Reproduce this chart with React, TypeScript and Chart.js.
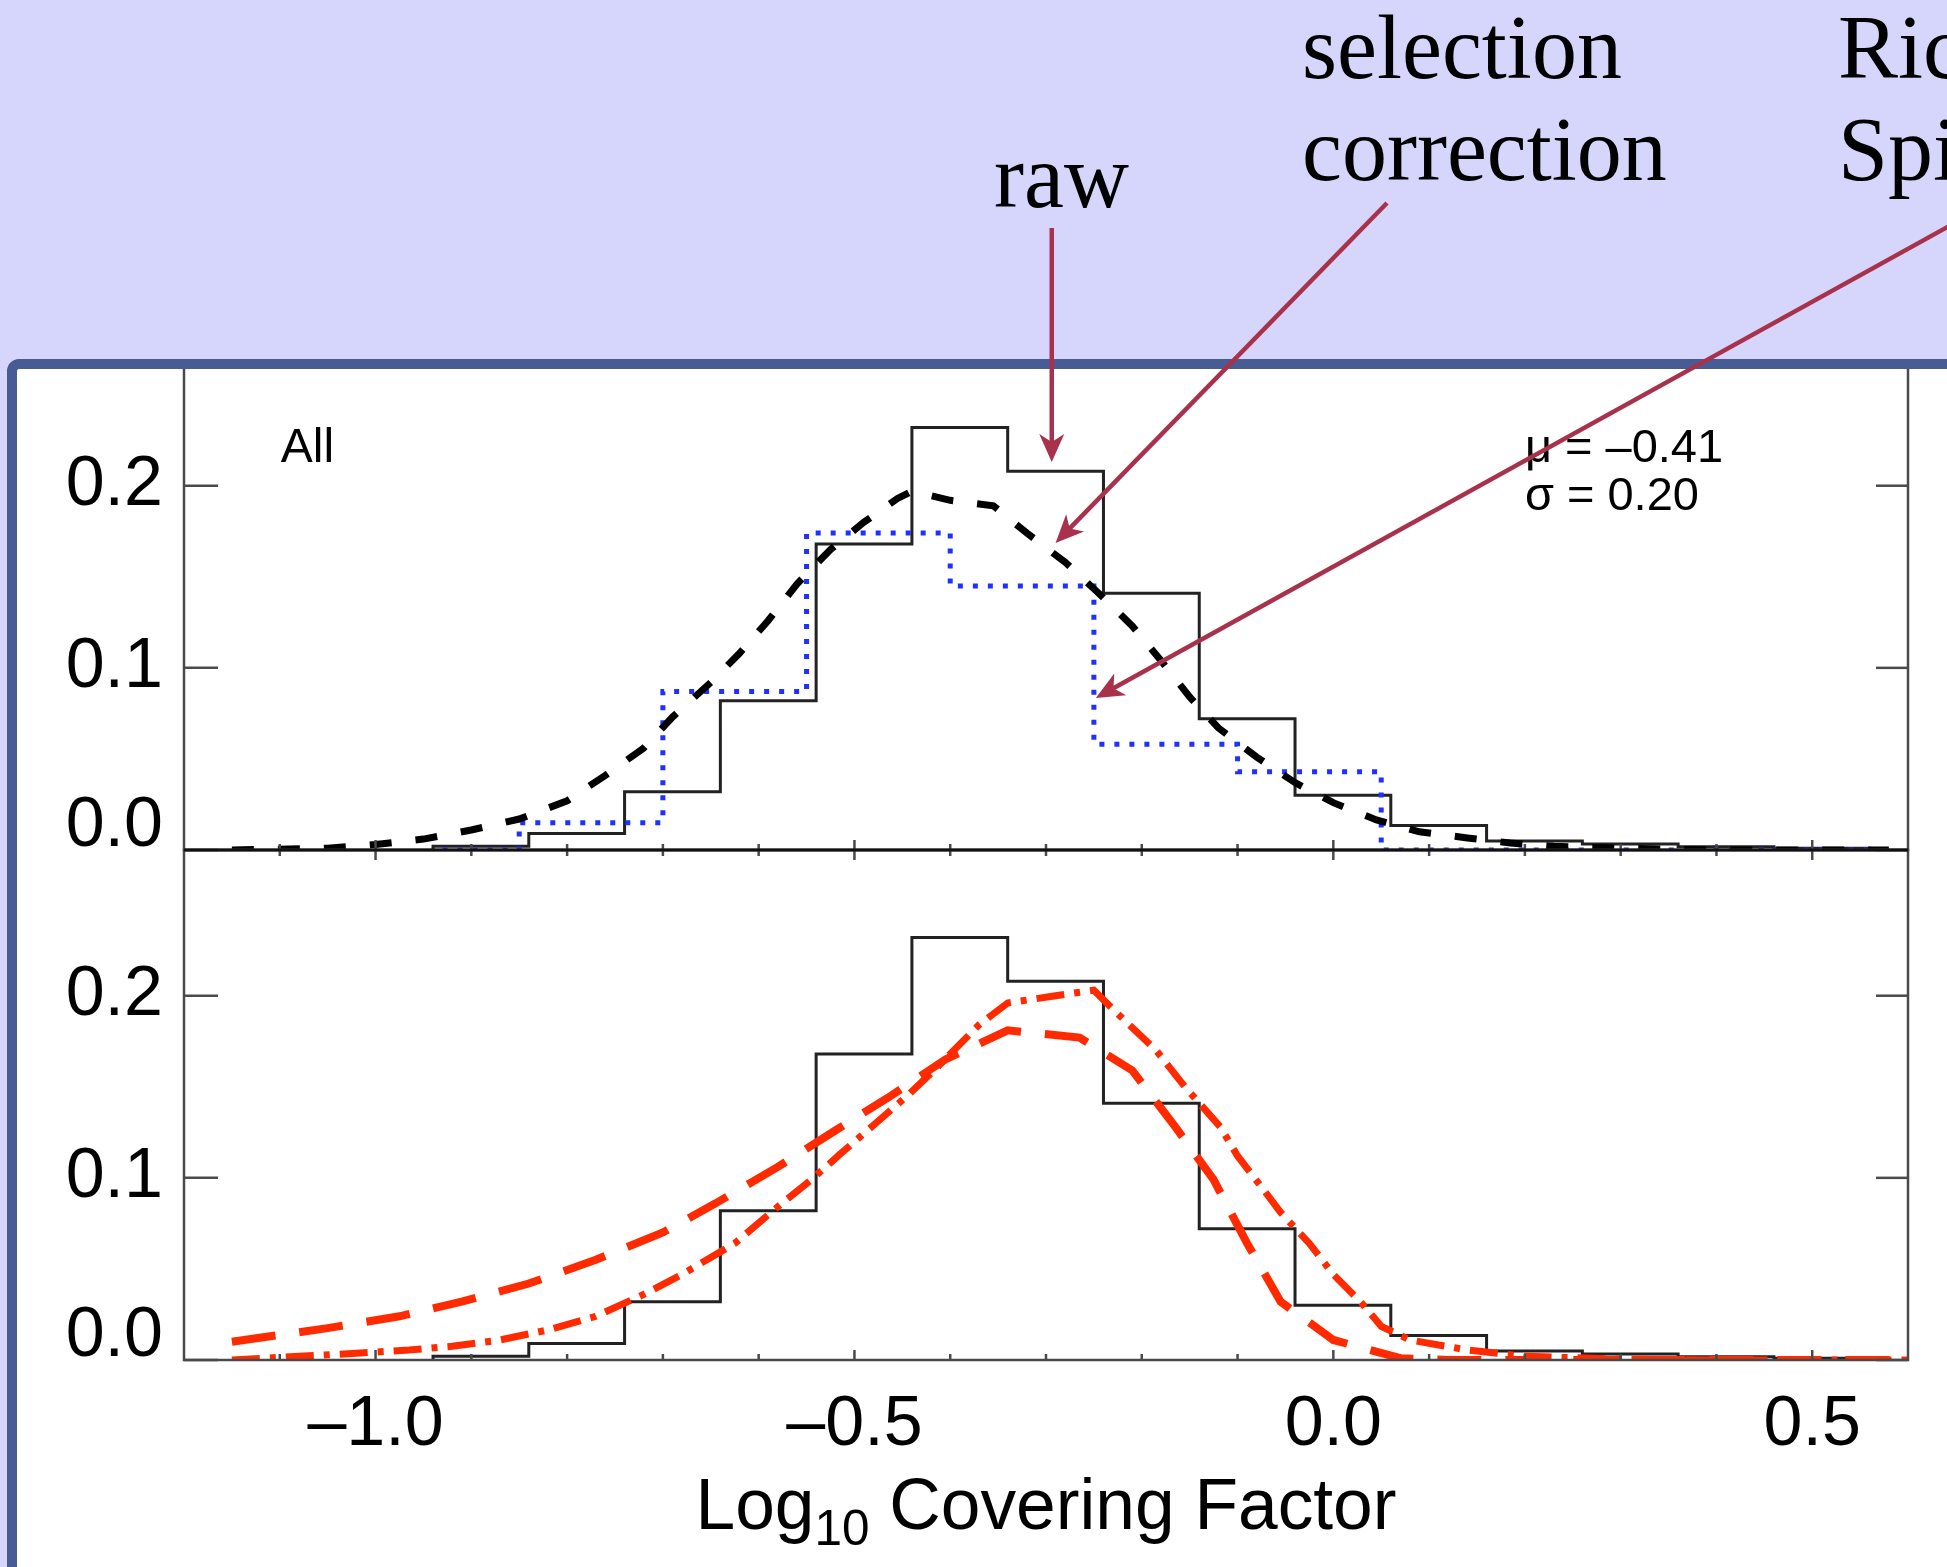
import React, { useEffect, useRef } from 'react';
import { Chart, registerables } from 'chart.js';

Chart.register(...registerables);

const W = 1947;
const H = 1567;
const FONT_SANS = '"Liberation Sans", Arial, Helvetica, sans-serif';
const FONT_SERIF = '"Liberation Serif", "Times New Roman", Times, serif';

// ---- axes ----
const X_MIN = -1.2;
const X_MAX = 0.6;
const Y_MAX = 0.28;
const yTickValues = [0, 0.1, 0.2];
const yTickLabels = ['0.0', '0.1', '0.2'];
const xMajorTicks = [-1.0, -0.5, 0.0, 0.5];
const xTickLabels = ['–1.0', '–0.5', '0.0', '0.5'];
const xMinorTicks = [-1.1, -0.9, -0.8, -0.7, -0.6, -0.4, -0.3, -0.2, -0.1, 0.1, 0.2, 0.3, 0.4];

// ---- raw histogram (both panels) ----
const rawBinEdges = [-0.94, -0.84, -0.74, -0.64, -0.54, -0.44, -0.34, -0.24, -0.14, -0.04, 0.06, 0.16, 0.26, 0.36, 0.46, 0.56];
const rawValues = [0.002, 0.009, 0.032, 0.082, 0.168, 0.232, 0.208, 0.141, 0.072, 0.030, 0.0135, 0.005, 0.0033, 0.0018, 0.001];

// ---- Richards / Spitzer histogram (blue dotted, top panel) ----
const spitzerBinEdges = [-0.85, -0.70, -0.55, -0.40, -0.25, -0.10, 0.05];
const spitzerValues = [0.015, 0.087, 0.174, 0.145, 0.058, 0.043];
const spitzerStart = -0.93;
const spitzerEnd = 0.58;

// ---- selection-corrected distribution (black dashed, top panel) ----
const corrX = [-1.15, -1.05, -1.00, -0.95, -0.90, -0.85, -0.80, -0.76, -0.72, -0.69, -0.65, -0.62, -0.59, -0.56, -0.525, -0.49, -0.455, -0.44, -0.40, -0.355, -0.32, -0.28, -0.245, -0.21, -0.18, -0.15, -0.12, -0.08, -0.04, 0.00, 0.045, 0.09, 0.14, 0.185, 0.23, 0.30, 0.40, 0.50, 0.58];
const corrY = [0.000, 0.001, 0.003, 0.006, 0.011, 0.017, 0.027, 0.041, 0.056, 0.073, 0.092, 0.108, 0.126, 0.146, 0.165, 0.180, 0.193, 0.197, 0.192, 0.189, 0.174, 0.158, 0.141, 0.123, 0.104, 0.084, 0.067, 0.051, 0.037, 0.026, 0.0165, 0.010, 0.0066, 0.0038, 0.002, 0.001, 0.0, 0.0, 0.0];

// ---- model A (red long dashes, bottom panel) ----
const modelAX = [-1.15, -1.05, -0.975, -0.91, -0.84, -0.77, -0.70, -0.645, -0.58, -0.52, -0.465, -0.405, -0.34, -0.265, -0.21, -0.165, -0.125, -0.09, -0.055, 0.0, 0.07, 0.12, 0.20, 0.30, 0.40, 0.50, 0.60];
const modelAY = [0.010, 0.0175, 0.024, 0.032, 0.042, 0.055, 0.070, 0.086, 0.106, 0.126, 0.144, 0.165, 0.181, 0.177, 0.159, 0.128, 0.099, 0.064, 0.032, 0.011, 0.001, 0.0, 0.0, 0.0, 0.0, 0.0, 0.0];

// ---- model B (red dash-dot, bottom panel) ----
const modelBX = [-1.15, -1.08, -1.02, -0.965, -0.92, -0.87, -0.82, -0.77, -0.72, -0.68, -0.625, -0.585, -0.545, -0.515, -0.48, -0.445, -0.415, -0.37, -0.34, -0.29, -0.25, -0.225, -0.185, -0.155, -0.118, -0.10, -0.075, -0.055, -0.025, 0.0, 0.03, 0.05, 0.08, 0.14, 0.20, 0.30, 0.40, 0.50, 0.60];
const modelBY = [0.0, 0.002, 0.0037, 0.0055, 0.0075, 0.011, 0.0165, 0.024, 0.036, 0.047, 0.064, 0.082, 0.099, 0.113, 0.129, 0.145, 0.160, 0.184, 0.196, 0.200, 0.203, 0.190, 0.170, 0.150, 0.128, 0.112, 0.095, 0.081, 0.064, 0.047, 0.031, 0.0185, 0.011, 0.0055, 0.002, 0.0005, 0.0, 0.0, 0.0];

// ---- annotation anchors (data coordinates, top panel) ----
const rawArrowTip = { x: -0.294, y: 0.213 };
const selArrowTip = { x: -0.290, y: 0.1686 };
const spitzerArrowTip = { x: -0.248, y: 0.0835 };
const allLabelPos = { x: -1.099, y: 0.2131 };
const statsPos = { x: 0.200, y: 0.2131 };
const statsLines = ['μ = –0.41', 'σ = 0.20'];

const AXIS_COLOR = '#4a4a4a';
const ARROW_COLOR = '#a8324c';
const BANNER_COLOR = '#d6d6fc';
const FRAME_COLOR = '#475b95';

function histogramOutline(edges: number[], values: number[], from?: number, to?: number) {
  const pts: { x: number; y: number }[] = [];
  if (from !== undefined) pts.push({ x: from, y: 0 });
  pts.push({ x: edges[0], y: 0 });
  for (let i = 0; i < values.length; i++) {
    pts.push({ x: edges[i], y: values[i] });
    pts.push({ x: edges[i + 1], y: values[i] });
  }
  pts.push({ x: edges[edges.length - 1], y: 0 });
  if (to !== undefined) pts.push({ x: to, y: 0 });
  return pts;
}

const zip = (xs: number[], ys: number[]) => xs.map((x, i) => ({ x, y: ys[i] }));

function line(ctx: CanvasRenderingContext2D, x0: number, y0: number, x1: number, y1: number) {
  ctx.beginPath();
  ctx.moveTo(x0, y0);
  ctx.lineTo(x1, y1);
  ctx.stroke();
}

function arrow(ctx: CanvasRenderingContext2D, x0: number, y0: number, x1: number, y1: number) {
  const L = 28;
  const Wd = 12.5;
  const dx = x1 - x0;
  const dy = y1 - y0;
  const len = Math.hypot(dx, dy);
  const ux = dx / len;
  const uy = dy / len;
  const nx = -uy;
  const ny = ux;
  ctx.save();
  ctx.strokeStyle = ARROW_COLOR;
  ctx.fillStyle = ARROW_COLOR;
  ctx.lineWidth = 4.5;
  line(ctx, x0, y0, x1 - ux * L * 0.7, y1 - uy * L * 0.7);
  ctx.beginPath();
  ctx.moveTo(x1, y1);
  ctx.lineTo(x1 - ux * L + nx * Wd, y1 - uy * L + ny * Wd);
  ctx.lineTo(x1 - ux * L * 0.72, y1 - uy * L * 0.72);
  ctx.lineTo(x1 - ux * L - nx * Wd, y1 - uy * L - ny * Wd);
  ctx.closePath();
  ctx.fill();
  ctx.restore();
}

const decorPlugin = {
  id: 'decor',
  beforeDraw(chart: any) {
    const { ctx, width, height } = chart;
    ctx.save();
    ctx.fillStyle = '#ffffff';
    ctx.fillRect(0, 0, width, height);
    ctx.restore();
  },
  afterDatasetsDraw(chart: any) {
    const { ctx, chartArea } = chart;
    const xs = chart.scales.x;
    const panels = [chart.scales.yTop, chart.scales.yBot];
    const left = chartArea.left;
    const right = chartArea.right;
    ctx.save();
    ctx.strokeStyle = AXIS_COLOR;
    ctx.lineWidth = 2.5;
    for (const ys of panels) {
      ctx.strokeRect(left, ys.top, right - left, ys.bottom - ys.top);
      for (const v of yTickValues) {
        const py = ys.getPixelForValue(v);
        line(ctx, left, py, left + 34, py);
        line(ctx, right - 32, py, right, py);
      }
      for (const v of xMinorTicks) {
        const px = xs.getPixelForValue(v);
        line(ctx, px, ys.bottom, px, ys.bottom - 6);
        line(ctx, px, ys.top, px, ys.top + 6);
      }
      for (const v of xMajorTicks) {
        const px = xs.getPixelForValue(v);
        line(ctx, px, ys.bottom, px, ys.bottom - 10);
        line(ctx, px, ys.top, px, ys.top + 10);
      }
    }
    // panel-to-panel axis in black
    ctx.strokeStyle = '#111';
    ctx.lineWidth = 3;
    line(ctx, left, panels[0].bottom, right, panels[0].bottom);

    // in-panel texts
    const yT = chart.scales.yTop;
    ctx.fillStyle = '#000';
    ctx.textBaseline = 'alphabetic';
    ctx.textAlign = 'left';
    ctx.font = `48px ${FONT_SANS}`;
    ctx.fillText('All', xs.getPixelForValue(allLabelPos.x), yT.getPixelForValue(allLabelPos.y));
    ctx.font = `47px ${FONT_SANS}`;
    const sx = xs.getPixelForValue(statsPos.x);
    const sy = yT.getPixelForValue(statsPos.y);
    statsLines.forEach((t, i) => ctx.fillText(t, sx, sy + i * 48));

    // x-axis title: Log10 Covering Factor
    const mainFont = `72px ${FONT_SANS}`;
    const subFont = `50px ${FONT_SANS}`;
    ctx.font = mainFont;
    const w1 = ctx.measureText('Log').width;
    const w3 = ctx.measureText(' Covering Factor').width;
    ctx.font = subFont;
    const w2 = ctx.measureText('10').width;
    const total = w1 + w2 + w3;
    const target = 701;
    const scaleX = target / total;
    const cx = (left + right) / 2;
    const baseY = chart.scales.yBot.bottom + 169;
    ctx.save();
    ctx.translate(cx - target / 2, baseY);
    ctx.scale(scaleX, 1);
    ctx.font = mainFont;
    ctx.fillText('Log', 0, 0);
    ctx.font = subFont;
    ctx.fillText('10', w1, 16);
    ctx.font = mainFont;
    ctx.fillText(' Covering Factor', w1 + w2, 0);
    ctx.restore();
    ctx.restore();
  },
  afterDraw(chart: any) {
    const { ctx, width, height } = chart;
    const xs = chart.scales.x;
    const yT = chart.scales.yTop;
    ctx.save();
    // banner background (outside the rounded frame)
    ctx.fillStyle = BANNER_COLOR;
    ctx.beginPath();
    ctx.rect(0, 0, width, height);
    if ((ctx as any).roundRect) {
      (ctx as any).roundRect(12, 364, width + 200, height + 200, 7);
    } else {
      ctx.rect(12, 364, width + 200, height + 200);
    }
    ctx.fill('evenodd');
    // frame
    ctx.strokeStyle = FRAME_COLOR;
    ctx.lineWidth = 10;
    ctx.beginPath();
    if ((ctx as any).roundRect) {
      (ctx as any).roundRect(12, 364, width + 200, height + 200, 7);
    } else {
      ctx.rect(12, 364, width + 200, height + 200);
    }
    ctx.stroke();

    // banner labels
    ctx.fillStyle = '#000';
    ctx.font = `90px ${FONT_SERIF}`;
    ctx.textAlign = 'left';
    ctx.textBaseline = 'alphabetic';
    ctx.fillText('raw', 994, 207);
    ctx.fillText('selection', 1302, 78);
    ctx.fillText('correction', 1302, 180);
    ctx.fillText('Richards', 1838, 78);
    ctx.fillText('Spitzer', 1838, 180);

    // arrows
    const rx = xs.getPixelForValue(rawArrowTip.x);
    arrow(ctx, rx, 228, rx, yT.getPixelForValue(rawArrowTip.y));
    arrow(ctx, 1387, 203, xs.getPixelForValue(selArrowTip.x), yT.getPixelForValue(selArrowTip.y));
    arrow(ctx, 2000, 198, xs.getPixelForValue(spitzerArrowTip.x), yT.getPixelForValue(spitzerArrowTip.y));
    ctx.restore();
  },
};

const lineBase = {
  pointRadius: 0,
  pointHoverRadius: 0,
  tension: 0,
  fill: false,
  borderJoinStyle: 'miter' as const,
};

function yScale(weight: number) {
  return {
    type: 'linear' as const,
    position: 'left' as const,
    stack: 'panels',
    stackWeight: 1,
    weight,
    min: 0,
    max: Y_MAX,
    grid: { display: false, drawTicks: false },
    border: { display: false },
    afterBuildTicks: (scale: any) => {
      scale.ticks = yTickValues.map((v) => ({ value: v }));
    },
    afterFit: (scale: any) => {
      scale.width = 184;
    },
    ticks: {
      autoSkip: false,
      padding: 21,
      color: '#000',
      font: (c: any) => ({
        family: FONT_SANS,
        size: 70,
        lineHeight: c && c.tick && c.tick.value === 0 ? 0.66 : 1.2,
      }),
      callback: (value: number) => {
        const i = yTickValues.indexOf(value);
        const lab = i >= 0 ? yTickLabels[i] : '';
        return value === 0 ? [lab, ''] : lab;
      },
    },
  };
}

export default function App() {
  const ref = useRef<HTMLCanvasElement>(null);
  useEffect(() => {
    document.body.style.margin = '0';
    document.body.style.overflow = 'hidden';
    const canvas = ref.current;
    if (!canvas) return;
    const chart = new Chart(canvas, {
      type: 'line',
      data: {
        datasets: [
          {
            ...lineBase,
            label: 'selection correction',
            data: zip(corrX, corrY),
            yAxisID: 'yTop',
            borderColor: '#000000',
            borderWidth: 7,
            borderDash: [22, 24],
          },
          {
            ...lineBase,
            label: 'Richards Spitzer',
            data: histogramOutline(spitzerBinEdges, spitzerValues, spitzerStart, spitzerEnd),
            yAxisID: 'yTop',
            borderColor: '#1f30ff',
            borderWidth: 5,
            borderDash: [5, 10],
          },
          {
            ...lineBase,
            label: 'raw',
            data: histogramOutline(rawBinEdges, rawValues),
            yAxisID: 'yTop',
            borderColor: '#222222',
            borderWidth: 3,
          },
          {
            ...lineBase,
            label: 'model A',
            data: zip(modelAX, modelAY),
            yAxisID: 'yBot',
            borderColor: '#ff2a00',
            borderWidth: 8,
            borderDash: [44, 24],
          },
          {
            ...lineBase,
            label: 'model B',
            data: zip(modelBX, modelBY),
            yAxisID: 'yBot',
            borderColor: '#ff2a00',
            borderWidth: 7,
            borderDash: [28, 10, 6, 10],
          },
          {
            ...lineBase,
            label: 'raw (lower)',
            data: histogramOutline(rawBinEdges, rawValues),
            yAxisID: 'yBot',
            borderColor: '#222222',
            borderWidth: 3,
          },
        ],
      },
      options: {
        responsive: false,
        animation: false,
        devicePixelRatio: 1,
        events: [],
        layout: { padding: { top: 340, right: 39, bottom: 0, left: 0 } },
        plugins: {
          legend: { display: false },
          tooltip: { enabled: false },
          title: { display: false },
        },
        scales: {
          x: {
            type: 'linear',
            position: 'bottom',
            min: X_MIN,
            max: X_MAX,
            grid: { display: false, drawTicks: false },
            border: { display: false },
            afterBuildTicks: (scale: any) => {
              scale.ticks = xMajorTicks.map((v) => ({ value: v }));
            },
            afterFit: (scale: any) => {
              scale.height = 207;
            },
            ticks: {
              autoSkip: false,
              maxRotation: 0,
              minRotation: 0,
              padding: 24,
              color: '#000',
              font: { family: FONT_SANS, size: 70 },
              callback: (value: number) => {
                const i = xMajorTicks.findIndex((t) => Math.abs(t - value) < 1e-9);
                return i >= 0 ? xTickLabels[i] : '';
              },
            },
          },
          yTop: yScale(1),
          yBot: yScale(0),
        },
      } as any,
      plugins: [decorPlugin],
    });
    return () => chart.destroy();
  }, []);
  return <canvas ref={ref} width={W} height={H} style={{ display: 'block', width: W, height: H }} />;
}
